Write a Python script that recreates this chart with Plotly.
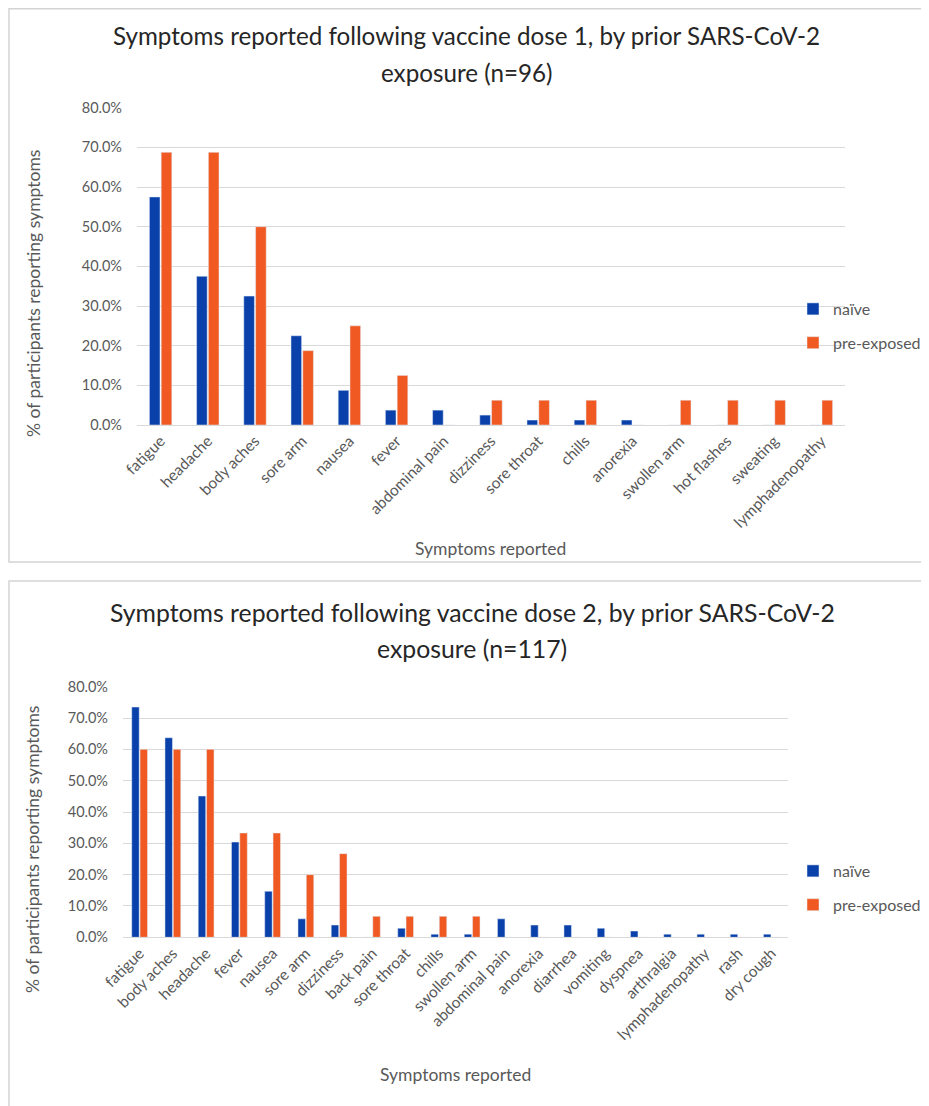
import plotly.graph_objects as go

# ---------------- data ----------------
cats1 = ["fatigue", "headache", "body aches", "sore arm", "nausea", "fever",
         "abdominal pain", "dizziness", "sore throat", "chills", "anorexia",
         "swollen arm", "hot flashes", "sweating", "lymphadenopathy"]
naive1 = [57.5, 37.5, 32.5, 22.5, 8.75, 3.75, 3.75, 2.5, 1.25, 1.25, 1.25, 0, 0, 0, 0]
pre1 = [68.75, 68.75, 50.0, 18.75, 25.0, 12.5, 0, 6.25, 6.25, 6.25, 0, 6.25, 6.25, 6.25, 6.25]

cats2 = ["fatigue", "body aches", "headache", "fever", "nausea", "sore arm",
         "dizziness", "back pain", "sore throat", "chills", "swollen arm",
         "abdominal pain", "anorexia", "diarrhea", "vomiting", "dyspnea",
         "arthralgia", "lymphadenopathy", "rash", "dry cough"]
naive2 = [73.5, 63.7, 45.1, 30.4, 14.7, 5.9, 3.9, 0, 2.9, 1.0, 1.0, 5.9, 3.9, 3.9,
          2.9, 2.0, 1.0, 1.0, 1.0, 1.0]
pre2 = [60.0, 60.0, 60.0, 33.3, 33.3, 20.0, 26.7, 6.7, 6.7, 6.7, 6.7, 0, 0, 0,
        0, 0, 0, 0, 0, 0]

series_names = ["naïve", "pre-exposed"]
y_ticks = [0, 10, 20, 30, 40, 50, 60, 70, 80]
y_ticktext = [f"{v:.1f}%" for v in y_ticks]

title1 = ["Symptoms reported following vaccine dose 1, by prior SARS-CoV-2", "exposure (n=96)"]
title2 = ["Symptoms reported following vaccine dose 2, by prior SARS-CoV-2", "exposure (n=117)"]
x_title = "Symptoms reported"
y_title = "% of participants reporting symptoms"

# ---------------- style ----------------
# page has an 8px body margin, so the figure is drawn 8px smaller and
# all target positions below are given in page pixels minus that offset
OFF = 8
W, H = 929 - OFF, 1106 - OFF
BLUE = "#0A40AA"
ORANGE = "#F05A22"
GRID = "#D9D9D9"
TICK = "#595959"
FONT = "Lato, 'Open Sans', sans-serif"


def px(x):
    return (x - OFF) / W


def py(y):
    return 1 - (y - OFF) / H


fig = go.Figure()
fig.add_trace(go.Bar(x=cats1, y=naive1, name=series_names[0], marker_color=BLUE,
                     xaxis="x", yaxis="y", legend="legend", legendgroup="n1"))
fig.add_trace(go.Bar(x=cats1, y=pre1, name=series_names[1], marker_color=ORANGE,
                     xaxis="x", yaxis="y", legend="legend", legendgroup="p1"))
fig.add_trace(go.Bar(x=cats2, y=naive2, name=series_names[0], marker_color=BLUE,
                     xaxis="x2", yaxis="y2", legend="legend2", legendgroup="n2"))
fig.add_trace(go.Bar(x=cats2, y=pre2, name=series_names[1], marker_color=ORANGE,
                     xaxis="x2", yaxis="y2", legend="legend2", legendgroup="p2"))

xcommon = dict(tickangle=-45, tickfont=dict(size=15.5, color=TICK, family=FONT),
               showgrid=False, showline=True, linecolor=GRID, linewidth=1,
               ticks="", fixedrange=True, automargin=False)
ycommon = dict(range=[0, 80], tickmode="array", tickvals=y_ticks, ticktext=y_ticktext,
               tickfont=dict(size=14.5, color=TICK, family=FONT),
               showgrid=True, gridcolor=GRID, gridwidth=1, zeroline=False,
               showline=False, ticks="", ticklabelstandoff=14, fixedrange=True,
               automargin=False)

legcommon = dict(xanchor="left", yanchor="top", orientation="v",
                 font=dict(size=16, color=TICK, family=FONT),
                 bgcolor="rgba(0,0,0,0)", tracegroupgap=10, itemwidth=30)

fig.update_layout(
    width=W, height=H,
    margin=dict(l=0, r=0, t=0, b=0, pad=0, autoexpand=False),
    paper_bgcolor="white", plot_bgcolor="white",
    font=dict(family=FONT, color=TICK),
    barmode="group", bargap=0.5, bargroupgap=0.1,
    xaxis=dict(domain=[px(137), px(845)], anchor="y", **xcommon),
    yaxis=dict(domain=[py(425), py(107.7)], anchor="x", **ycommon),
    xaxis2=dict(domain=[px(123), px(788)], anchor="y2", **xcommon),
    yaxis2=dict(domain=[py(937.3), py(686.7)], anchor="x2", **ycommon),
    legend=dict(x=px(793), y=py(292), **legcommon),
    legend2=dict(x=px(793), y=py(854), **legcommon),
    showlegend=True,
)

shapes = [
    dict(type="rect", xref="paper", yref="paper", x0=px(9), x1=px(960), y0=py(562), y1=py(8.8),
         line=dict(color="#D4D4D4", width=1.5), fillcolor="rgba(0,0,0,0)", layer="below"),
    dict(type="rect", xref="paper", yref="paper", x0=px(9), x1=px(960), y0=py(1130), y1=py(581),
         line=dict(color="#D4D4D4", width=1.5), fillcolor="rgba(0,0,0,0)", layer="below"),
]
fig.update_layout(shapes=shapes)

ann = []
for (t, ys, cx, fs) in [(title1, (35, 72), 466, 24.2), (title2, (612, 648), 472, 24.8)]:
    for line, yy in zip(t, ys):
        ann.append(dict(text=line, x=px(cx), y=py(yy), xref="paper", yref="paper",
                        showarrow=False, xanchor="center", yanchor="middle",
                        font=dict(size=fs, color="#262626", family=FONT)))
AF = dict(size=17.5, color=TICK, family=FONT)
ann.append(dict(text=x_title, x=px(490), y=py(548), xref="paper", yref="paper",
                showarrow=False, xanchor="center", yanchor="middle", font=AF))
ann.append(dict(text=x_title, x=px(455), y=py(1074), xref="paper", yref="paper",
                showarrow=False, xanchor="center", yanchor="middle", font=AF))
ann.append(dict(text=y_title, x=px(34), y=py(294), xref="paper", yref="paper", textangle=-90,
                showarrow=False, xanchor="center", yanchor="middle", font=AF))
ann.append(dict(text=y_title, x=px(32), y=py(850), xref="paper", yref="paper", textangle=-90,
                showarrow=False, xanchor="center", yanchor="middle", font=AF))
fig.update_layout(annotations=ann)

fig.write_html("out.html", config={"displayModeBar": False})
